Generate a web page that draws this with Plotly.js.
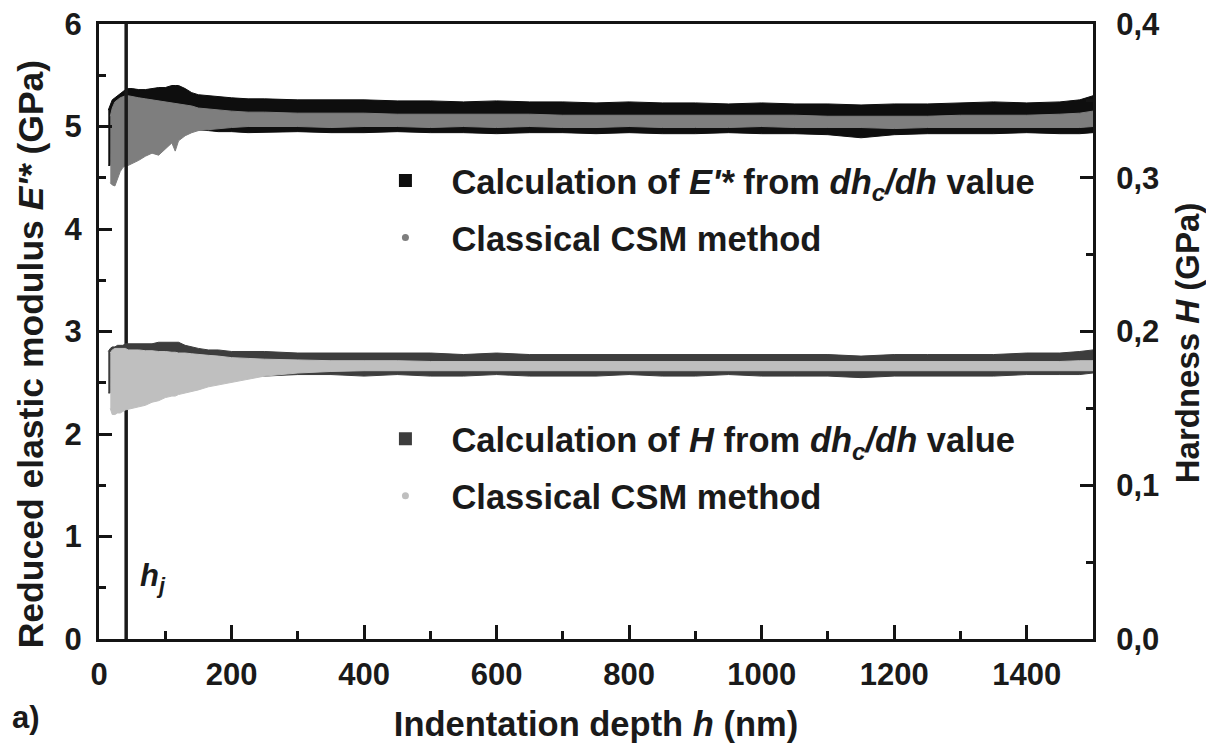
<!DOCTYPE html>
<html>
<head>
<meta charset="utf-8">
<script src="https://cdn.plot.ly/plotly-3.0.1.min.js"></script>
<style>
html,body{margin:0;padding:0;background:#fff;}
#chart{width:1206px;height:746px;}
</style>
</head>
<body>
<div id="chart"></div>
<script>
// ---- data ----
// depth grid for the dh_c/dh calculation bands (nm)
const depthDh = [14,17,20,24,28,32,36,40,44,50,60,70,80,90,100,110,115,120,130,140,150,165,180,200,225,250,300,350,400,450,500,550,600,650,700,750,800,850,900,950,1000,1050,1100,1150,1200,1250,1300,1350,1400,1450,1480,1500];
// depth grid for the classical CSM bands (nm)
const depthCsm = [17,20,24,28,32,36,40,44,50,60,70,80,90,100,110,115,120,130,140,150,165,180,200,225,250,300,350,400,450,500,550,600,650,700,750,800,850,900,950,1000,1050,1100,1150,1200,1250,1300,1350,1400,1450,1480,1500];

// reduced modulus E'* from dh_c/dh (GPa): upper / lower envelope of the scatter band
const eDhUpper = [5.16,5.22,5.26,5.28,5.30,5.32,5.34,5.36,5.37,5.37,5.36,5.36,5.37,5.38,5.38,5.40,5.40,5.40,5.37,5.33,5.31,5.30,5.29,5.28,5.27,5.27,5.26,5.26,5.26,5.25,5.25,5.24,5.25,5.24,5.24,5.23,5.24,5.23,5.23,5.22,5.23,5.22,5.22,5.21,5.22,5.22,5.23,5.24,5.23,5.24,5.26,5.30];
const eDhLower = [4.62,4.62,4.97,4.97,4.97,4.97,4.97,4.97,4.97,4.97,4.97,4.97,4.97,4.97,4.97,4.97,4.97,4.97,4.97,4.97,4.97,4.96,4.95,4.95,4.94,4.94,4.95,4.94,4.94,4.95,4.94,4.94,4.93,4.94,4.94,4.93,4.94,4.93,4.93,4.94,4.93,4.93,4.92,4.89,4.92,4.93,4.93,4.93,4.94,4.93,4.93,4.94];
// reduced modulus, classical CSM method (GPa)
const eCsmUpper = [5.10,5.18,5.24,5.26,5.28,5.29,5.30,5.30,5.29,5.28,5.27,5.26,5.25,5.24,5.23,5.22,5.22,5.21,5.20,5.18,5.17,5.16,5.15,5.14,5.14,5.13,5.13,5.13,5.12,5.12,5.12,5.12,5.12,5.11,5.11,5.11,5.11,5.11,5.11,5.11,5.11,5.10,5.10,5.10,5.10,5.11,5.11,5.11,5.12,5.13,5.15];
const eCsmLower = [4.45,4.43,4.42,4.48,4.56,4.60,4.62,4.62,4.64,4.67,4.71,4.74,4.72,4.78,4.84,4.76,4.86,4.91,4.94,4.96,4.97,4.98,4.99,5.00,5.00,5.00,4.99,5.00,5.00,4.99,5.00,4.99,5.00,4.99,4.99,5.00,4.99,4.99,4.99,5.00,4.99,4.99,4.99,4.98,4.99,4.99,4.99,4.99,4.99,4.99,5.00];

// hardness H from dh_c/dh (GPa)
const hDhUpper = [0.187,0.189,0.190,0.190,0.191,0.191,0.191,0.192,0.192,0.192,0.192,0.192,0.192,0.193,0.193,0.193,0.193,0.193,0.191,0.190,0.189,0.188,0.188,0.187,0.187,0.187,0.186,0.186,0.186,0.186,0.186,0.185,0.186,0.185,0.185,0.185,0.185,0.185,0.185,0.185,0.185,0.185,0.185,0.184,0.185,0.185,0.185,0.185,0.186,0.186,0.187,0.188];
const hDhLower = [0.160,0.160,0.180,0.180,0.180,0.180,0.180,0.180,0.180,0.180,0.180,0.180,0.180,0.180,0.180,0.180,0.180,0.180,0.180,0.180,0.180,0.180,0.180,0.180,0.1715,0.171,0.172,0.172,0.171,0.172,0.171,0.171,0.172,0.171,0.171,0.171,0.172,0.171,0.171,0.172,0.171,0.171,0.171,0.170,0.171,0.171,0.171,0.171,0.172,0.172,0.172,0.173];
// hardness, classical CSM method (GPa)
const hCsmUpper = [0.186,0.188,0.189,0.189,0.189,0.189,0.189,0.188,0.188,0.188,0.1875,0.1875,0.187,0.187,0.1865,0.1865,0.186,0.186,0.1855,0.185,0.1845,0.184,0.183,0.1825,0.182,0.1815,0.181,0.181,0.181,0.1805,0.1805,0.1805,0.1805,0.1805,0.1805,0.1805,0.1805,0.1805,0.1805,0.1805,0.1805,0.1805,0.1805,0.1805,0.1805,0.1805,0.1805,0.1805,0.1805,0.181,0.181];
const hCsmLower = [0.150,0.146,0.146,0.147,0.147,0.148,0.149,0.149,0.150,0.151,0.152,0.154,0.155,0.157,0.158,0.158,0.159,0.160,0.161,0.162,0.164,0.165,0.167,0.169,0.171,0.173,0.174,0.1745,0.1745,0.1745,0.1745,0.1745,0.1745,0.1745,0.1745,0.1745,0.1745,0.1745,0.1745,0.1745,0.1745,0.1745,0.1745,0.1745,0.1745,0.1745,0.1745,0.1745,0.1745,0.1745,0.1745];

const hj = 41;            // h_j depth (nm)
const eRange = [0, 6];    // left axis
const hRange = [0, 0.4];  // right axis
const xRange = [0, 1500];

const legendNames = [
  "Calculation of <i>E'*</i> from <i>dh<sub>c</sub>/dh</i> value",
  "Classical CSM method",
  "Calculation of <i>H</i> from <i>dh<sub>c</sub>/dh</i> value",
  "Classical CSM method"
];
const titleX = 'Indentation depth <i>h</i> (nm)';
const titleY = "Reduced elastic modulus <i>E'*</i> (GPa)";
const titleY2 = 'Hardness <i>H</i> (GPa)';

// ---- traces ----
function band(depth, upper, lower, color, axis) {
  return {
    x: depth.concat(depth.slice().reverse()),
    y: upper.concat(lower.slice().reverse()),
    type: 'scatter', mode: 'lines', fill: 'toself',
    fillcolor: color, line: {color: color, width: 1},
    yaxis: axis, showlegend: false, hoverinfo: 'skip'
  };
}
const cBlack = '#0e0e0e', cGrey = '#7e7e7e', cDark = '#3d3d3d', cLight = '#bfbfbf';

const traces = [
  band(depthDh, eDhUpper, eDhLower, cBlack, 'y'),
  band(depthCsm, eCsmUpper, eCsmLower, cGrey, 'y'),
  band(depthDh, hDhUpper, hDhLower, cDark, 'y2'),
  band(depthCsm, hCsmUpper, hCsmLower, cLight, 'y2'),
  {x: [hj, hj], y: eRange, type: 'scatter', mode: 'lines',
   line: {color: '#1a1a1a', width: 3.5}, showlegend: false, hoverinfo: 'skip'},
  {x: [null], y: [null], type: 'scatter', mode: 'markers', name: legendNames[0],
   marker: {symbol: 'square', size: 13, color: cBlack}, legend: 'legend', legendgroup: 'a'},
  {x: [null], y: [null], type: 'scatter', mode: 'markers', name: legendNames[1],
   marker: {symbol: 'circle', size: 7, color: cGrey}, legend: 'legend', legendgroup: 'b'},
  {x: [null], y: [null], type: 'scatter', mode: 'markers', name: legendNames[2], yaxis: 'y2',
   marker: {symbol: 'square', size: 13, color: cDark}, legend: 'legend2', legendgroup: 'c'},
  {x: [null], y: [null], type: 'scatter', mode: 'markers', name: legendNames[3], yaxis: 'y2',
   marker: {symbol: 'circle', size: 7, color: cLight}, legend: 'legend2', legendgroup: 'd'}
];

const axisCol = '#141414';
const F = '"Liberation Sans", Arial, Helvetica, sans-serif';
const legendCommon = {
  xanchor: 'left', yanchor: 'middle', bgcolor: 'rgba(0,0,0,0)', itemwidth: 82,
  font: {size: 34.5}, traceorder: 'grouped', tracegroupgap: 9, itemclick: false, itemdoubleclick: false
};
const layout = {
  width: 1206, height: 746,
  margin: {l: 99, r: 113, t: 24, b: 107},
  paper_bgcolor: '#ffffff', plot_bgcolor: '#ffffff',
  separators: ', ',
  font: {family: F, size: 31, color: '#1a1a1a', weight: 'bold'},
  xaxis: {
    range: xRange, tick0: 0, dtick: 200, ticks: 'inside', ticklen: 14, tickwidth: 3, tickcolor: axisCol,
    showline: true, linewidth: 3, linecolor: axisCol, mirror: true, showgrid: false, zeroline: false,
    minor: {dtick: 100, ticks: 'inside', ticklen: 8, tickwidth: 3, tickcolor: axisCol, showgrid: false},
    tickfont: {size: 31}, ticklabelstandoff: 6,
    title: {text: titleX, font: {size: 34.5}, standoff: 21},
    automargin: false
  },
  yaxis: {
    range: eRange, tick0: 0, dtick: 1, ticks: 'inside', ticklen: 13, tickwidth: 3, tickcolor: axisCol,
    showline: true, linewidth: 3, linecolor: axisCol, showgrid: false, zeroline: false,
    minor: {dtick: 0.5, ticks: 'inside', ticklen: 7, tickwidth: 3, tickcolor: axisCol, showgrid: false},
    tickfont: {size: 31}, ticklabelstandoff: 8,
    automargin: false
  },
  yaxis2: {
    range: hRange, tick0: 0, dtick: 0.1, tickformat: '.1f', overlaying: 'y', side: 'right',
    ticks: 'inside', ticklen: 13, tickwidth: 3, tickcolor: axisCol,
    showline: true, linewidth: 3, linecolor: axisCol, showgrid: false, zeroline: false,
    minor: {dtick: 0.05, ticks: 'inside', ticklen: 7, tickwidth: 3, tickcolor: axisCol, showgrid: false},
    tickfont: {size: 31}, ticklabelstandoff: 14,
    automargin: false
  },
  legend: Object.assign({x: 0.262, y: 0.699}, legendCommon),
  legend2: Object.assign({x: 0.262, y: 0.279}, legendCommon),
  annotations: [
    {text: titleY, xref: 'paper', yref: 'paper', x: -0.0684, y: 0.463, xanchor: 'center', yanchor: 'middle',
     textangle: -90, showarrow: false, font: {size: 35.5}},
    {text: titleY2, xref: 'paper', yref: 'paper', x: 1.0946, y: 0.481, xanchor: 'center', yanchor: 'middle',
     textangle: -90, showarrow: false, font: {size: 33}},
    {text: 'a)', xref: 'paper', yref: 'paper', x: -0.09, y: -0.128, xanchor: 'left', yanchor: 'middle',
     showarrow: false, font: {size: 31}},
    {text: '<i>h<sub>j</sub></i>', xref: 'x', yref: 'y', x: hj, y: 0.6, xanchor: 'left', yanchor: 'middle',
     xshift: 12, showarrow: false, font: {size: 31}}
  ]
};

Plotly.newPlot('chart', traces, layout, {displayModeBar: false, staticPlot: true});
</script>
</body>
</html>
